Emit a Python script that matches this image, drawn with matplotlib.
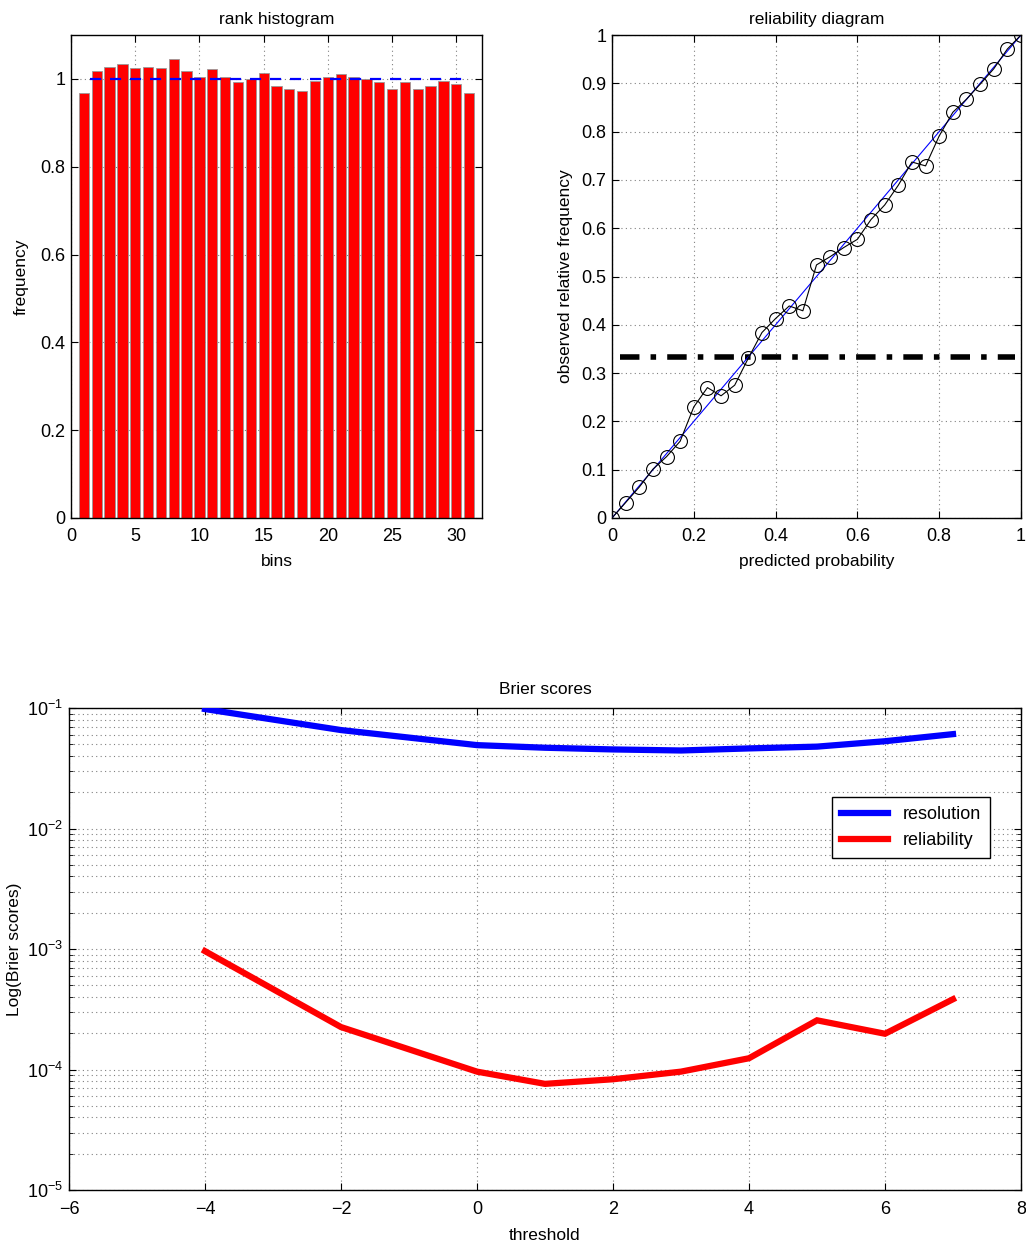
import numpy as np
import matplotlib
matplotlib.use("Agg")
import matplotlib.pyplot as plt
from matplotlib.ticker import FuncFormatter, LogLocator, NullFormatter

plt.rcParams['font.family'] = ['Liberation Sans', 'DejaVu Sans']
plt.rcParams['font.size'] = 12

# ---- rank histogram data ----
bins = list(range(1, 32))
freq = [0.969, 1.019, 1.027, 1.033, 1.024, 1.027, 1.024, 1.046, 1.019, 1.005,
        1.023, 1.005, 0.992, 1.000, 1.014, 0.983, 0.978, 0.973, 0.996, 1.005,
        1.011, 1.005, 1.000, 0.992, 0.978, 0.992, 0.978, 0.983, 0.996, 0.988,
        0.969]
uniform_x = [1.5, 30.5]
uniform_y = [1.0, 1.0]

# ---- reliability diagram data ----
pred_prob = [k / 30 for k in range(31)]
obs_freq = [0.0, 0.032, 0.064, 0.101, 0.127, 0.159, 0.230, 0.270, 0.253, 0.275,
            0.331, 0.384, 0.413, 0.439, 0.429, 0.524, 0.541, 0.560, 0.577, 0.618,
            0.648, 0.689, 0.737, 0.729, 0.791, 0.840, 0.867, 0.898, 0.930, 0.971,
            1.0]
diag_x = [0, 1]
diag_y = [0, 1]
clim_x = [0.02, 0.985]
clim_y = [1 / 3, 1 / 3]

# ---- Brier scores data ----
threshold = [-4, -2, 0, 1, 2, 3, 4, 5, 6, 7]
resolution = [0.098, 0.0656, 0.0492, 0.0468, 0.0453, 0.0444, 0.0462, 0.0478, 0.053, 0.0607]
reliability = [9.6e-4, 2.25e-4, 9.6e-5, 7.6e-5, 8.3e-5, 9.6e-5, 1.24e-4, 2.56e-4, 1.98e-4, 3.83e-4]

W, H = 1026, 1245
fig = plt.figure(figsize=(W / 100, H / 100), dpi=100)

def frac(l, t, r, b):
    return [l / W, 1 - b / H, (r - l) / W, (b - t) / H]

gridkw = dict(color='0.5', linestyle=(0, (1, 3)), linewidth=0.8)

def style(ax, xpad=7):
    for s in ax.spines.values():
        s.set_linewidth(1.0)
        s.set_color('black')
    ax.tick_params(direction='in', length=5, width=0.8, top=True, right=True,
                   labelsize=13)
    ax.tick_params(axis='x', pad=xpad)
    ax.tick_params(axis='y', pad=4)
    ax.tick_params(which='minor', direction='in', length=3, width=0.6, top=True, right=True)

gfmt = FuncFormatter(lambda v, p: ('%g' % round(v, 6)))

# rank histogram
ax1 = fig.add_axes(frac(71, 35, 482, 518))
ax1.bar(bins, freq, width=0.8, color='#ff0000', edgecolor='0.6', linewidth=0.6, zorder=2)
ax1.plot(uniform_x, uniform_y, color='blue', linestyle=(0, (5, 4)), linewidth=1.6, zorder=3)
ax1.set_xlim(0, 32)
ax1.set_ylim(0, 1.1)
ax1.set_xticks([0, 5, 10, 15, 20, 25, 30])
ax1.set_yticks([0, 0.2, 0.4, 0.6, 0.8, 1.0])
ax1.yaxis.set_major_formatter(gfmt)
ax1.grid(True, **gridkw)
ax1.set_axisbelow(True)
style(ax1)
ax1.set_title('rank histogram', fontsize=12.5, pad=8)
ax1.set_xlabel('bins', fontsize=12.5, labelpad=7)
ax1.set_ylabel('frequency', fontsize=12.5, labelpad=8)

# reliability diagram
ax2 = fig.add_axes(frac(612, 35, 1021, 518))
ax2.plot(diag_x, diag_y, color='blue', linewidth=0.8, zorder=3)
ax2.plot(pred_prob, obs_freq, color='black', linewidth=0.8, marker='o', markersize=10,
         markerfacecolor='none', markeredgecolor='black', markeredgewidth=0.8, zorder=4)
ax2.plot(clim_x, clim_y, color='black', linewidth=4, linestyle=(0, (3.5, 2, 1, 2)), zorder=2)
ax2.set_xlim(0, 1)
ax2.set_ylim(0, 1)
ax2.set_xticks(np.arange(0, 1.01, 0.2))
ax2.set_yticks(np.arange(0, 1.01, 0.1))
ax2.xaxis.set_major_formatter(gfmt)
ax2.yaxis.set_major_formatter(gfmt)
ax2.grid(True, **gridkw)
ax2.set_axisbelow(True)
style(ax2)
ax2.set_title('reliability diagram', fontsize=12.5, pad=8)
ax2.set_xlabel('predicted probability', fontsize=12.5, labelpad=7)
ax2.set_ylabel('observed relative frequency', fontsize=12.5, labelpad=6)

# Brier scores
ax3 = fig.add_axes(frac(69, 708, 1021, 1190))
ax3.semilogy(threshold, resolution, color='blue', linewidth=4.5, label='resolution',
             solid_joinstyle='miter', zorder=3)
ax3.semilogy(threshold, reliability, color='red', linewidth=4.5, label='reliability',
             solid_joinstyle='miter', zorder=3)
ax3.set_xlim(-6, 8)
ax3.set_ylim(1e-5, 1e-1)
ax3.set_xticks(range(-6, 9, 2))
ax3.xaxis.set_major_formatter(FuncFormatter(lambda v, p: ('%d' % v).replace('-', '\u2212')))
ax3.yaxis.set_major_locator(LogLocator(base=10, numticks=10))
ax3.yaxis.set_minor_locator(LogLocator(base=10, subs=np.arange(2, 10), numticks=20))
ax3.yaxis.set_minor_formatter(NullFormatter())
ax3.grid(True, which='major', axis='both', **gridkw)
ax3.grid(True, which='minor', axis='y', **gridkw)
ax3.set_axisbelow(True)
style(ax3, xpad=8)
ax3.set_title('Brier scores', fontsize=12.5, pad=10)
ax3.set_xlabel('threshold', fontsize=12.5, labelpad=7)
ax3.set_ylabel('Log(Brier scores)', fontsize=12.5, labelpad=4)
leg = ax3.legend(loc='upper right', bbox_to_anchor=(0.9674, 0.8154), borderaxespad=0,
                 fancybox=False, framealpha=1, edgecolor='black', fontsize=13,
                 handlelength=2.6, borderpad=0.5, labelspacing=0.5)
leg.get_frame().set_linewidth(1.0)

fig.savefig('out.png', dpi=100)
